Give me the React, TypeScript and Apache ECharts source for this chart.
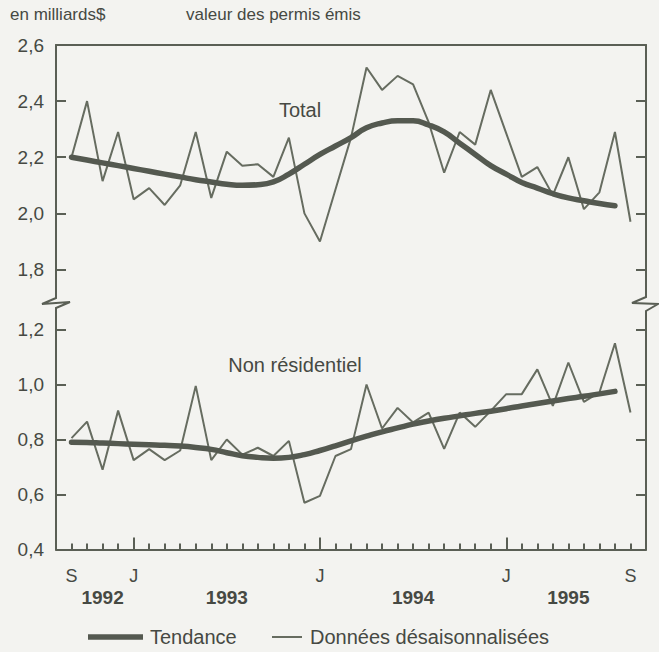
import React, { useEffect, useRef } from 'react';
import * as echarts from 'echarts';

// Monthly categories, Aug 1992 .. Oct 1995
const months = [
  '1992-08', '1992-09', '1992-10', '1992-11', '1992-12',
  '1993-01', '1993-02', '1993-03', '1993-04', '1993-05', '1993-06',
  '1993-07', '1993-08', '1993-09', '1993-10', '1993-11', '1993-12',
  '1994-01', '1994-02', '1994-03', '1994-04', '1994-05', '1994-06',
  '1994-07', '1994-08', '1994-09', '1994-10', '1994-11', '1994-12',
  '1995-01', '1995-02', '1995-03', '1995-04', '1995-05', '1995-06',
  '1995-07', '1995-08', '1995-09', '1995-10',
];

// Tick letters under the axis
const monthLetters: Record<string, string> = {
  '1992-09': 'S', '1993-01': 'J', '1994-01': 'J', '1995-01': 'J', '1995-09': 'S',
};
// Year labels (centred in each year span)
const yearLabels: Record<string, string> = {
  '1992-11': '1992', '1993-07': '1993', '1994-07': '1994', '1995-05': '1995',
};

// Total, seasonally adjusted (Sep 1992 .. Sep 1995)
const totalData = [
  2.20, 2.40, 2.115, 2.29,
  2.05, 2.09, 2.03, 2.10, 2.29, 2.055, 2.22, 2.17, 2.175, 2.13, 2.27, 2.00,
  1.90, 2.085, 2.27, 2.52, 2.44, 2.49, 2.46, 2.325, 2.145, 2.29, 2.245, 2.44,
  2.285, 2.13, 2.165, 2.065, 2.20, 2.015, 2.075, 2.29, 1.97,
];
// Total, trend (Sep 1992 .. Aug 1995)
const totalTrend = [
  2.20, 2.19, 2.18, 2.17,
  2.16, 2.15, 2.14, 2.13, 2.12, 2.112, 2.104, 2.10, 2.102, 2.112, 2.14, 2.175,
  2.21, 2.24, 2.27, 2.305, 2.322, 2.33, 2.33, 2.315, 2.29, 2.25, 2.21, 2.17,
  2.14, 2.11, 2.09, 2.07, 2.055, 2.045, 2.035, 2.027,
];
// Non résidentiel, seasonally adjusted (Sep 1992 .. Sep 1995)
const nonResData = [
  0.805, 0.865, 0.69, 0.905,
  0.725, 0.765, 0.725, 0.76, 0.995, 0.725, 0.80, 0.745, 0.77, 0.74, 0.795, 0.57,
  0.595, 0.74, 0.765, 1.00, 0.84, 0.915, 0.862, 0.898, 0.766, 0.898, 0.846, 0.904,
  0.965, 0.965, 1.055, 0.922, 1.08, 0.937, 0.971, 1.15, 0.898,
];
// Non résidentiel, trend (Sep 1992 .. Aug 1995)
const nonResTrend = [
  0.79, 0.789, 0.787, 0.785,
  0.783, 0.781, 0.779, 0.776, 0.771, 0.764, 0.752, 0.741, 0.735, 0.732, 0.735, 0.745,
  0.76, 0.777, 0.795, 0.812, 0.828, 0.842, 0.856, 0.867, 0.877, 0.886, 0.895, 0.903,
  0.912, 0.922, 0.931, 0.94, 0.949, 0.957, 0.966, 0.975,
];

const topTicks = { min: 1.8, max: 2.6, interval: 0.2 };
const bottomTicks = { min: 0.4, max: 1.2, interval: 0.2 };

const BG = '#f3f3f0';
const INK = '#464943';
const AXIS = '#5a5f55';
const DATA_C = '#666c60';
const TREND_C = '#545950';
const FONT = '"Liberation Sans", Arial, Helvetica, sans-serif';

function pad(values: number[], total: number): (number | null)[] {
  // series start at Sep 1992 (index 1)
  const out: (number | null)[] = [null, ...values];
  while (out.length < total) out.push(null);
  return out;
}

const fmt = (v: number) => v.toFixed(1).replace('.', ',');

export default function App() {
  const ref = useRef<HTMLDivElement>(null);

  useEffect(() => {
    if (!ref.current) return;
    const chart = echarts.init(ref.current, undefined, { renderer: 'svg' });

    const gridLeft = 56;
    const gridRight = 13;

    const yCommon = (t: { min: number; max: number; interval: number }, gridIndex: number, pos: 'left' | 'right') => ({
      type: 'value' as const,
      gridIndex,
      position: pos,
      min: t.min,
      max: t.max,
      interval: t.interval,
      splitLine: { show: false },
      axisLine: { show: true, lineStyle: { color: AXIS, width: 2 } },
      axisTick: { show: true, inside: true, length: 10, lineStyle: { color: AXIS, width: 2 } },
      axisLabel: pos === 'left'
        ? { show: true, formatter: fmt, color: INK, fontSize: 19, fontFamily: FONT, margin: 12 }
        : { show: false },
    });

    const option: any = {
      animation: false,
      backgroundColor: BG,
      grid: [
        { left: gridLeft, right: gridRight, top: 45, height: 224.5 },
        { left: gridLeft, right: gridRight, top: 329.5, height: 220 },
      ],
      xAxis: [
        {
          type: 'category', gridIndex: 0, position: 'top', data: months, boundaryGap: false,
          axisLine: { show: true, lineStyle: { color: AXIS, width: 2 } },
          axisTick: { show: false }, axisLabel: { show: false }, splitLine: { show: false },
        },
        {
          type: 'category', gridIndex: 1, position: 'bottom', data: months, boundaryGap: false,
          axisLine: { show: true, lineStyle: { color: AXIS, width: 2 } },
          axisTick: { show: true, inside: true, length: 6, interval: 0, lineStyle: { color: AXIS, width: 2 } },
          axisLabel: {
            show: true, interval: 0, margin: 17, color: INK, fontSize: 18, fontFamily: FONT,
            formatter: (v: string) => monthLetters[v] ?? '',
          },
          splitLine: { show: false },
        },
        {
          type: 'category', gridIndex: 1, position: 'bottom', data: months, boundaryGap: false,
          axisLine: { show: false },
          axisTick: {
            show: true, inside: true, length: 12,
            interval: (_i: number, v: string) => v.endsWith('-01'),
            lineStyle: { color: AXIS, width: 2 },
          },
          axisLabel: {
            show: true, interval: 0, margin: 38, color: INK, fontSize: 19, fontWeight: 'bold', fontFamily: FONT,
            formatter: (v: string) => yearLabels[v] ?? '',
          },
          splitLine: { show: false },
        },
      ],
      yAxis: [
        yCommon(topTicks, 0, 'left'),
        yCommon(topTicks, 0, 'right'),
        yCommon(bottomTicks, 1, 'left'),
        yCommon(bottomTicks, 1, 'right'),
      ],
      series: [
        {
          name: 'Données désaisonnalisées', type: 'line', xAxisIndex: 0, yAxisIndex: 0,
          data: pad(totalData, months.length), symbol: 'none', connectNulls: false,
          lineStyle: { color: DATA_C, width: 2 }, z: 2,
        },
        {
          name: 'Tendance', type: 'line', xAxisIndex: 0, yAxisIndex: 0,
          data: pad(totalTrend, months.length), symbol: 'none', smooth: 0.5,
          lineStyle: { color: TREND_C, width: 5.5, cap: 'round' }, z: 3,
        },
        {
          name: 'Données désaisonnalisées', type: 'line', xAxisIndex: 1, yAxisIndex: 2,
          data: pad(nonResData, months.length), symbol: 'none',
          lineStyle: { color: DATA_C, width: 2 }, z: 2,
        },
        {
          name: 'Tendance', type: 'line', xAxisIndex: 1, yAxisIndex: 2,
          data: pad(nonResTrend, months.length), symbol: 'none', smooth: 0.5,
          lineStyle: { color: TREND_C, width: 5.5, cap: 'round' }, z: 3,
        },
      ],
      graphic: [
        // axis break zigzags and connecting axis segments
        {
          type: 'polyline', silent: true,
          shape: { points: [[56, 269], [56, 298], [42, 304], [70, 302], [56, 308], [56, 330]] },
          style: { stroke: AXIS, lineWidth: 2, fill: 'none' },
        },
        {
          type: 'polyline', silent: true,
          shape: { points: [[646, 269], [646, 297], [632, 303], [658, 304], [646, 311], [646, 330]] },
          style: { stroke: AXIS, lineWidth: 2, fill: 'none' },
        },
        // titles
        {
          type: 'text', x: 10, y: 14,
          style: { text: 'en milliards$', fill: INK, fontSize: 17, fontFamily: FONT, verticalAlign: 'middle', textVerticalAlign: 'middle' },
        },
        {
          type: 'text', x: 186, y: 14,
          style: { text: 'valeur des permis émis', fill: INK, fontSize: 17, fontFamily: FONT, verticalAlign: 'middle', textVerticalAlign: 'middle' },
        },
        // series annotations
        {
          type: 'text', x: 300, y: 110,
          style: { text: 'Total', fill: INK, fontSize: 20, fontFamily: FONT, align: 'center', textAlign: 'center', verticalAlign: 'middle', textVerticalAlign: 'middle' },
        },
        {
          type: 'text', x: 295, y: 365,
          style: { text: 'Non résidentiel', fill: INK, fontSize: 20, fontFamily: FONT, align: 'center', textAlign: 'center', verticalAlign: 'middle', textVerticalAlign: 'middle' },
        },
        // legend
        {
          type: 'line', silent: true,
          shape: { x1: 88, y1: 637, x2: 143, y2: 637 },
          style: { stroke: TREND_C, lineWidth: 5.5 },
        },
        {
          type: 'text', x: 150, y: 637,
          style: { text: 'Tendance', fill: INK, fontSize: 20, fontFamily: FONT, verticalAlign: 'middle', textVerticalAlign: 'middle' },
        },
        {
          type: 'line', silent: true,
          shape: { x1: 272, y1: 637, x2: 302, y2: 637 },
          style: { stroke: DATA_C, lineWidth: 2 },
        },
        {
          type: 'text', x: 310, y: 637,
          style: { text: 'Données désaisonnalisées', fill: INK, fontSize: 20, fontFamily: FONT, verticalAlign: 'middle', textVerticalAlign: 'middle' },
        },
      ],
    };

    chart.setOption(option);
    return () => chart.dispose();
  }, []);

  return (
    <div
      ref={ref}
      style={{ position: 'fixed', left: 0, top: 0, width: 659, height: 652, background: BG }}
    />
  );
}
